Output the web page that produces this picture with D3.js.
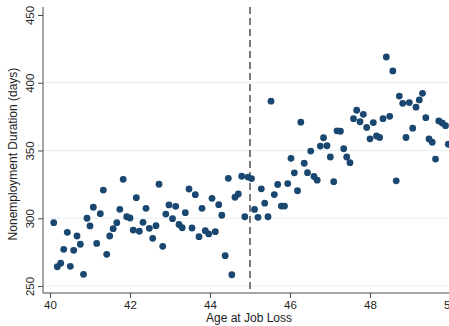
<!DOCTYPE html>
<html>
<head>
<meta charset="utf-8">
<script src="https://cdn.jsdelivr.net/npm/d3@7"></script>
<style>
  html, body { margin: 0; padding: 0; background: #fff; }
  svg { display: block; }
  text { font-family: "Liberation Sans", Arial, Helvetica, sans-serif; }
</style>
</head>
<body>
<svg id="chart" width="449" height="326"></svg>
<script>
const ages = [
  40.093, 40.183, 40.268, 40.343, 40.433, 40.508, 40.593, 40.675, 40.758, 40.838,
  40.925, 41.000, 41.083, 41.168, 41.258, 41.333, 41.418, 41.493, 41.580, 41.670,
  41.745, 41.830, 41.918, 42.000, 42.080, 42.158, 42.233, 42.325, 42.400, 42.483,
  42.568, 42.650, 42.725, 42.818, 42.895, 42.975, 43.063, 43.143, 43.225, 43.305,
  43.383, 43.475, 43.550, 43.633, 43.725, 43.800, 43.883, 43.968, 44.050, 44.133,
  44.218, 44.295, 44.380, 44.458, 44.545, 44.625, 44.708, 44.793, 44.870, 44.950,
  45.038, 45.113, 45.200, 45.283, 45.368, 45.450, 45.525, 45.608, 45.693, 45.783,
  45.863, 45.943, 46.025, 46.108, 46.188, 46.270, 46.355, 46.438, 46.518, 46.600,
  46.680, 46.758, 46.838, 46.925, 47.008, 47.093, 47.175, 47.260, 47.343, 47.418,
  47.500, 47.588, 47.668, 47.750, 47.833, 47.918, 48.000, 48.083, 48.163, 48.240,
  48.325, 48.408, 48.493, 48.570, 48.655, 48.733, 48.818, 48.900, 48.983, 49.068,
  49.150, 49.233, 49.313, 49.395, 49.475, 49.555, 49.638, 49.720, 49.805, 49.888,
  49.958
];
const durations = [
  296.7, 264.2, 266.8, 277.1, 289.6, 264.5, 276.3, 286.9, 280.8, 258.6,
  300.0, 294.3, 308.1, 281.4, 303.4, 320.8, 273.4, 286.9, 292.3, 296.7,
  306.6, 328.7, 301.1, 300.2, 291.3, 315.2, 290.4, 297.0, 307.3, 292.6,
  285.2, 294.5, 325.1, 279.3, 303.1, 309.8, 299.7, 308.8, 295.4, 293.0,
  304.1, 321.6, 292.8, 317.4, 286.4, 307.3, 290.8, 288.4, 314.7, 290.1,
  310.0, 302.2, 272.4, 329.5, 258.3, 315.5, 317.9, 331.0, 301.1, 330.4,
  329.3, 306.5, 300.7, 321.7, 311.1, 301.1, 386.4, 317.5, 324.9, 309.0,
  309.0, 325.6, 344.2, 333.5, 320.3, 370.9, 340.6, 333.6, 349.6, 330.8,
  328.1, 353.3, 359.4, 353.5, 345.2, 327.0, 364.5, 364.2, 351.3, 345.2,
  341.0, 373.5, 379.7, 371.2, 376.7, 367.0, 358.6, 370.6, 360.7, 359.6,
  373.5, 419.0, 375.2, 408.7, 327.6, 390.2, 384.8, 359.6, 385.4, 366.5,
  382.0, 387.3, 392.2, 374.2, 358.5, 356.1, 343.7, 371.8, 370.3, 368.3,
  354.6
];
const xTicks = [40, 42, 44, 46, 48, 50];
const yTicks = [250, 300, 350, 400, 450];
const gridValues = [250, 300, 350, 400];
const cutoffAge = 45;
const xTitle = "Age at Job Loss";
const yTitle = "Nonemployment Duration (days)";

const svg = d3.select("#chart");
const plotLeft = 43, plotTop = 7, plotBottom = 293;

const x = d3.scaleLinear().domain([40, 50]).range([50, 450]);
const y = d3.scaleLinear().domain([250, 450]).range([286, 15]);

// gridlines
svg.append("g").selectAll("line").data(gridValues).join("line")
  .attr("x1", plotLeft).attr("x2", 449)
  .attr("y1", d => y(d)).attr("y2", d => y(d))
  .attr("stroke", "#e6eef1").attr("stroke-width", 1);

// cutoff dashed line
svg.append("line")
  .attr("x1", x(cutoffAge)).attr("x2", x(cutoffAge))
  .attr("y1", plotTop).attr("y2", plotBottom)
  .attr("stroke", "#7a7a7a").attr("stroke-width", 2)
  .attr("stroke-dasharray", "7,4");

// points
svg.append("g").selectAll("circle").data(ages.map((a, i) => [a, durations[i]])).join("circle")
  .attr("cx", d => x(d[0])).attr("cy", d => y(d[1]))
  .attr("r", 3.4).attr("fill", "#1a476f");

// y axis
const yAxis = d3.axisLeft(y).tickValues(yTicks).tickSize(5).tickPadding(3);
const gy = svg.append("g").attr("transform", `translate(${plotLeft},0)`).call(yAxis);
gy.select(".domain").remove();
gy.append("line").attr("x1", 0).attr("x2", 0).attr("y1", plotTop).attr("y2", plotBottom)
  .attr("stroke", "#4d4d4d");
gy.selectAll(".tick line").attr("stroke", "#4d4d4d");
gy.selectAll(".tick text")
  .attr("x", null).attr("dy", null)
  .attr("transform", "translate(-9,0) rotate(-90)")
  .attr("text-anchor", "middle")
  .attr("fill", "#222").style("font-size", "11.5px");

// x axis
const xAxis = d3.axisBottom(x).tickValues(xTicks).tickSize(5).tickPadding(3);
const gx = svg.append("g").attr("transform", `translate(0,${plotBottom})`).call(xAxis);
gx.select(".domain").remove();
gx.append("line").attr("x1", plotLeft).attr("x2", 449).attr("y1", 0).attr("y2", 0)
  .attr("stroke", "#4d4d4d");
gx.selectAll(".tick line").attr("stroke", "#4d4d4d");
gx.selectAll(".tick text").attr("fill", "#222").style("font-size", "11.5px");

// titles
svg.append("text").attr("x", 249).attr("y", 322)
  .attr("text-anchor", "middle").attr("fill", "#222").style("font-size", "12px")
  .text(xTitle);
svg.append("text").attr("transform", `translate(17,${(plotTop + plotBottom) / 2 + 4}) rotate(-90)`)
  .attr("text-anchor", "middle").attr("fill", "#222").style("font-size", "12px")
  .text(yTitle);
</script>
</body>
</html>
